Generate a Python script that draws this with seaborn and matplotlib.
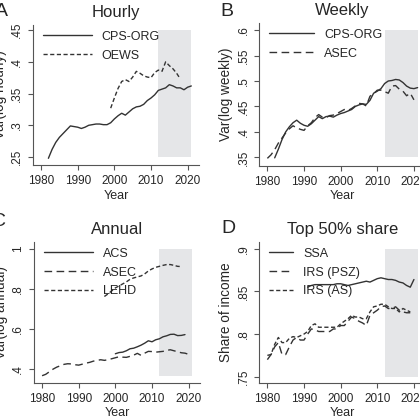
import matplotlib
matplotlib.use("Agg")
import matplotlib.pyplot as plt
import seaborn as sns

# panel A: hourly
hourly_cps_years = list(range(1982, 2022))
hourly_cps = [.248, .262, .273, .281, .287, .293, .299, .298, .297, .295,
              .297, .300, .301, .302, .302, .301, .301, .304, .310, .315,
              .319, .316, .321, .326, .329, .330, .333, .339, .343, .348,
              .355, .357, .359, .364, .362, .359, .359, .356, .360, .362]
hourly_oews_years = list(range(1999, 2019))
hourly_oews = [.327, .343, .358, .369, .372, .369, .376, .385, .382, .378,
               .376, .375, .383, .387, .385, .400, .394, .389, .382, .373]

# panel B: weekly
weekly_cps_years = list(range(1982, 2022))
weekly_cps = [.349, .366, .385, .400, .410, .418, .423, .417, .413, .411,
              .416, .423, .430, .426, .430, .431, .429, .433, .436, .438,
              .441, .444, .450, .453, .455, .454, .462, .476, .480, .485,
              .495, .500, .501, .503, .502, .497, .490, .486, .485, .487]
weekly_asec_years = list(range(1980, 2021))
weekly_asec = [.348, .355, .365, .378, .388, .398, .406, .412, .408, .405,
               .403, .412, .418, .428, .434, .429, .428, .432, .433, .436,
               .440, .444, .442, .446, .451, .456, .455, .451, .470, .475,
               .482, .482, .479, .476, .490, .491, .484, .480, .471, .476,
               .463]

# panel C: annual
annual_acs_years = list(range(2000, 2020))
annual_acs = [.475, .481, .483, .490, .500, .503, .510, .518, .528, .540,
              .535, .545, .550, .560, .565, .572, .573, .566, .567, .571]
annual_asec_years = list(range(1980, 2021))
annual_asec = [.365, .372, .385, .398, .408, .415, .422, .425, .424, .420,
               .418, .423, .428, .432, .438, .442, .445, .442, .445, .450,
               .455, .460, .458, .457, .462, .468, .477, .467, .478, .487,
               .486, .483, .485, .487, .492, .495, .490, .485, .480, .478,
               .472]
annual_lehd_years = list(range(1997, 2019))
annual_lehd = [.762, .775, .790, .805, .815, .825, .835, .848, .855, .860,
               .865, .875, .890, .900, .908, .913, .918, .922, .922, .918,
               .913, .912]

# panel D: top 50% share
share_ssa_years = list(range(1991, 2021))
share_ssa = [.855, .857, .858, .858, .858, .858, .858, .858, .859, .859,
             .858, .857, .858, .859, .860, .861, .862, .861, .863, .865,
             .866, .865, .864, .864, .863, .861, .860, .857, .855, .864]
share_psz_years = list(range(1980, 2020))
share_psz = [.770, .776, .785, .790, .776, .776, .785, .793, .796, .793,
             .793, .800, .806, .805, .803, .803, .803, .803, .806, .806,
             .810, .810, .815, .820, .818, .815, .813, .810, .822, .825,
             .828, .832, .833, .830, .830, .832, .828, .826, .825, .825]
share_as_years = list(range(1980, 2020))
share_as = [.775, .776, .788, .796, .790, .790, .795, .797, .796, .798,
            .800, .803, .810, .812, .808, .808, .808, .808, .808, .808,
            .812, .815, .818, .822, .820, .820, .818, .818, .826, .832,
            .833, .835, .835, .832, .830, .830, .826, .830, .828, .826]

xticks = [1980, 1990, 2000, 2010, 2020]
shade_years = [2012, 2021]

sns.set_style("ticks")
plt.rcParams['font.family'] = ['Liberation Sans', 'DejaVu Sans']

ink = "#333333"
solid = "-"
short_dash = (0, (3, 1.8))
long_dash = (0, (5.5, 3.2))

panels = [
    dict(letter="A", title="Hourly", ylabel="Var(log hourly)",
         pos=[0.0786, 0.6071, 0.3952, 0.3333], ylim=(.2374, .458),
         yticks=[.25, .3, .35, .4, .45], ylabels=[".25", ".3", ".35", ".4", ".45"],
         shade=(.25, .45), handlelen=3.9,
         series=[("CPS-ORG", hourly_cps_years, hourly_cps, solid),
                 ("OEWS", hourly_oews_years, hourly_oews, short_dash)]),
    dict(letter="B", title="Weekly", ylabel="Var(log weekly)",
         pos=[0.6174, 0.6048, 0.3952, 0.3405], ylim=(.333, .614),
         yticks=[.35, .4, .45, .5, .55, .6], ylabels=[".35", ".4", ".45", ".5", ".55", ".6"],
         shade=(.35, .6), handlelen=3.6,
         series=[("CPS-ORG", weekly_cps_years, weekly_cps, solid),
                 ("ASEC", weekly_asec_years, weekly_asec, long_dash)]),
    dict(letter="C", title="Annual", ylabel="Var(log annual)",
         pos=[0.081, 0.0881, 0.3952, 0.3357], ylim=(.3285, 1.035),
         yticks=[.4, .6, .8, 1], ylabels=[".4", ".6", ".8", "1"],
         shade=(.365, 1), handlelen=3.9,
         series=[("ACS", annual_acs_years, annual_acs, solid),
                 ("ASEC", annual_asec_years, annual_asec, long_dash),
                 ("LEHD", annual_lehd_years, annual_lehd, short_dash)]),
    dict(letter="D", title="Top 50% share", ylabel="Share of income",
         pos=[0.6174, 0.0881, 0.3952, 0.3357], ylim=(.7426, .908),
         yticks=[.75, .8, .85, .9], ylabels=[".75", ".8", ".85", ".9"],
         shade=(.75, .9), handlelen=1.9,
         series=[("SSA", share_ssa_years, share_ssa, solid),
                 ("IRS (PSZ)", share_psz_years, share_psz, long_dash),
                 ("IRS (AS)", share_as_years, share_as, short_dash)]),
]

fig = plt.figure(figsize=(4.2, 4.2), dpi=100)

for p in panels:
    ax = fig.add_axes(p["pos"])
    ax.fill_between(shade_years, p["shade"][0], p["shade"][1],
                    color="#e5e6e8", lw=0, zorder=0)
    for label, yrs, vals, ls in p["series"]:
        sns.lineplot(x=yrs, y=vals, ax=ax, color=ink, lw=1.0, ls=ls, label=label)
    ax.set_xlim(1977.8, 2023.1)
    ax.set_ylim(*p["ylim"])
    ax.set_xticks(xticks)
    ax.set_xticklabels([str(t) for t in xticks], fontsize=8.5)
    ax.set_yticks(p["yticks"])
    ax.set_yticklabels(p["ylabels"], rotation=90, va="center", fontsize=8.5)
    ax.tick_params(length=3.5, width=0.8, color="#555555", pad=3.5)
    for s in ["top", "right"]:
        ax.spines[s].set_visible(False)
    for s in ["left", "bottom"]:
        ax.spines[s].set_color("#555555")
        ax.spines[s].set_linewidth(0.8)
    ax.set_xlabel("Year", fontsize=9, labelpad=2)
    ax.set_ylabel(p["ylabel"], fontsize=9.8, labelpad=3)
    ax.set_title(p["title"], fontsize=12, pad=5.5)
    ax.legend(loc="upper left", bbox_to_anchor=(0.06, 0.96), frameon=False,
              fontsize=9, handlelength=p["handlelen"], handletextpad=0.8,
              labelspacing=0.55, borderpad=0, borderaxespad=0)

fig.text(1 / 420, 1 - 11.7 / 420, "A", fontsize=14, ha="center", va="center")
fig.text(226.5 / 420, 1 - 11.7 / 420, "B", fontsize=14, ha="center", va="center")
fig.text(-1 / 420, 1 - 221 / 420, "C", fontsize=14, ha="center", va="center")
fig.text(228.5 / 420, 1 - 229 / 420, "D", fontsize=14, ha="center", va="center")

fig.savefig("out.png", dpi=100)
